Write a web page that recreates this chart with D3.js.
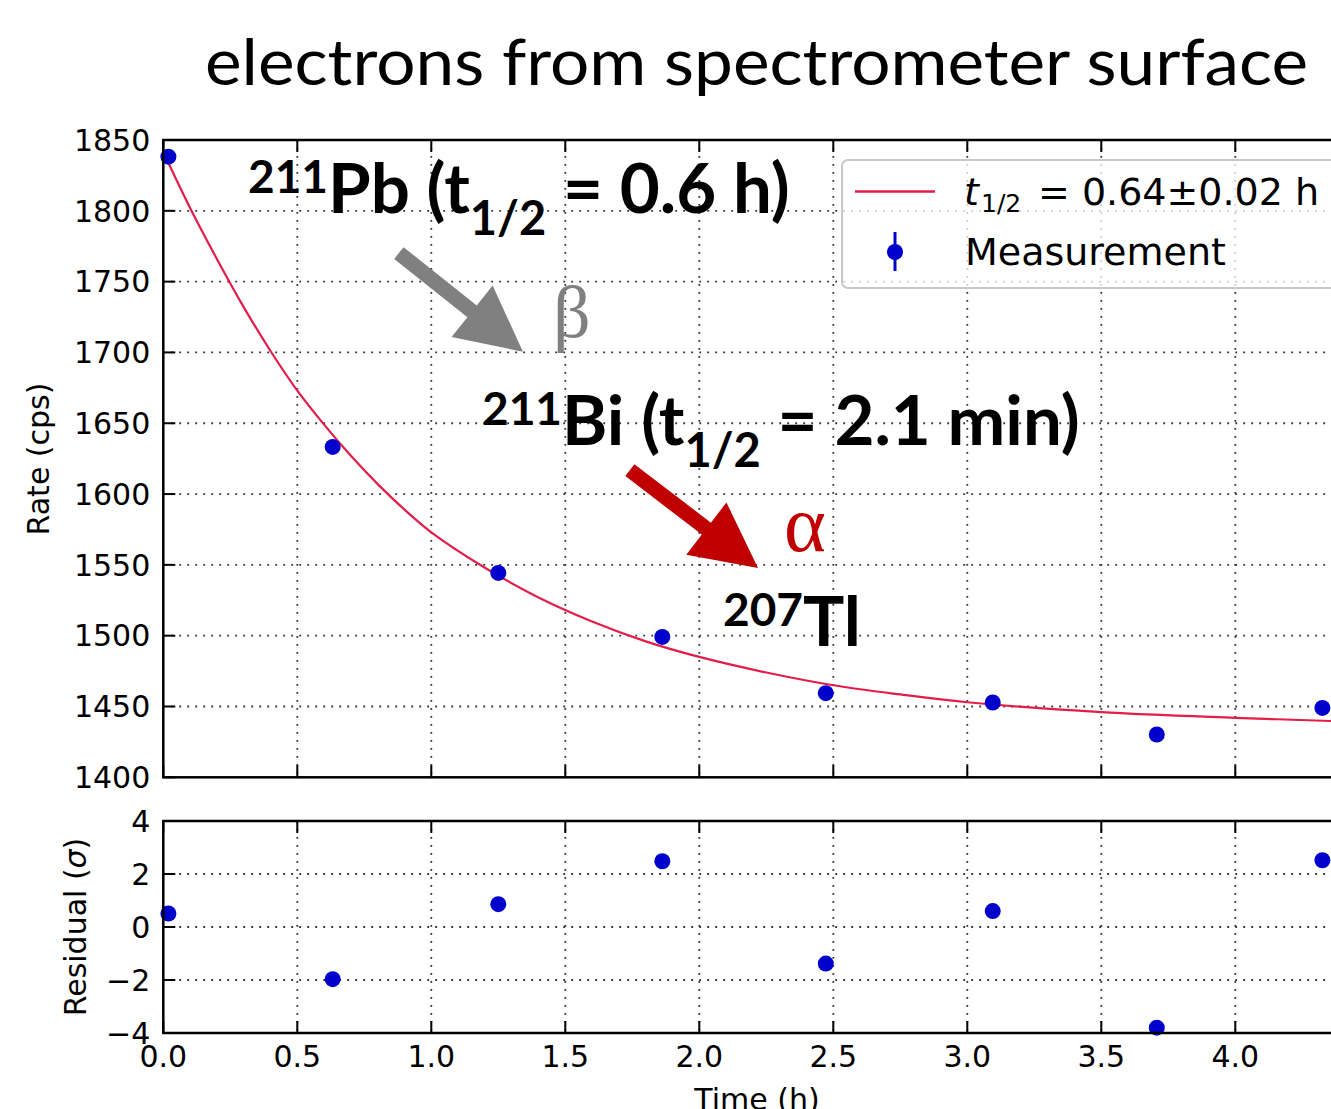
<!DOCTYPE html>
<html>
<head>
    <meta charset="utf-8">
    <style>
        body { margin: 0; background: #fff; }
        svg { display: block; overflow: hidden; }
        .tick-label { font-family: 'DejaVu Sans', sans-serif; font-size: 30px; fill: #000; }
    </style>
</head>
<body>
    <svg width="1331" height="1109"></svg>

<script src="https://d3js.org/d3.v7.min.js"></script>
<script>
    const times = [0.019, 0.632, 1.25, 1.862, 2.472, 3.095, 3.707, 4.325];
    const rates = [1838.2, 1633.3, 1544.3, 1499.1, 1459.4, 1452.8, 1430.2, 1449.0];
    const residuals = [0.51, -1.97, 0.86, 2.48, -1.38, 0.60, -3.80, 2.52];

    // fitted curve (t1/2 = 0.64 h)
    const fitTimes = [0, 0.1, 0.2, 0.3, 0.4, 0.5, 0.6, 0.7, 0.8, 0.9, 1.0, 1.2, 1.4, 1.6, 1.8,
                      2.0, 2.25, 2.5, 2.75, 3.0, 3.5, 4.0, 4.4];
    const fitRates = [1841.5, 1802, 1766, 1732, 1701, 1673, 1649, 1627, 1607, 1589, 1573, 1548, 1527, 1510, 1496,
                      1485, 1474, 1465, 1458.5, 1453, 1446, 1442, 1439.5];

    const xTicks = [0.0, 0.5, 1.0, 1.5, 2.0, 2.5, 3.0, 3.5, 4.0];
    const rateTicks = [1400, 1450, 1500, 1550, 1600, 1650, 1700, 1750, 1800, 1850];
    const residTicks = [-4, -2, 0, 2, 4];

    let svg = d3.select("svg");

    let left = 163.3;
    let x = d3.scaleLinear().domain([0, 4.4]).range([left, left + 4.4 * 268]);
    let yMain = d3.scaleLinear().domain([1400, 1850]).range([777.3, 140]);
    let yRes = d3.scaleLinear().domain([-4, 4]).range([1033, 821]);

    let blue = "#0000cc";
    let red = "#e31d4a";

    // title
    svg.append("text")
        .attr("x", 205).attr("y", 85)
        .attr("textLength", 1103).attr("lengthAdjust", "spacingAndGlyphs")
        .style("font-family", "Lato, 'Open Sans', sans-serif")
        .style("font-size", "64px")
        .text("electrons from spectrometer surface");

    function panel(y, ticks, fmt) {
        let g = svg.append("g");
        let x0 = x.range()[0], x1 = x.range()[1];
        let y0 = y.range()[0], y1 = y.range()[1];

        // dotted grid
        g.selectAll(".gx").data(xTicks.slice(1)).join("line")
            .attr("x1", d => x(d)).attr("x2", d => x(d))
            .attr("y1", y1).attr("y2", y0)
            .style("stroke", "#333").style("stroke-width", 1.8)
            .style("stroke-dasharray", "1.8,6.2");
        g.selectAll(".gy").data(ticks.slice(1, -1)).join("line")
            .attr("x1", x0).attr("x2", x1)
            .attr("y1", d => y(d)).attr("y2", d => y(d))
            .style("stroke", "#333").style("stroke-width", 1.8)
            .style("stroke-dasharray", "1.8,6.2");

        // inward ticks on all sides
        let tl = 12;
        g.selectAll(".tb").data(xTicks).join("line")
            .attr("x1", d => x(d)).attr("x2", d => x(d))
            .attr("y1", y0).attr("y2", y0 - tl)
            .style("stroke", "#000").style("stroke-width", 2);
        g.selectAll(".tt").data(xTicks).join("line")
            .attr("x1", d => x(d)).attr("x2", d => x(d))
            .attr("y1", y1).attr("y2", y1 + tl)
            .style("stroke", "#000").style("stroke-width", 2);
        g.selectAll(".tl").data(ticks).join("line")
            .attr("x1", x0).attr("x2", x0 + tl)
            .attr("y1", d => y(d)).attr("y2", d => y(d))
            .style("stroke", "#000").style("stroke-width", 2);

        g.selectAll(".yl").data(ticks).join("text")
            .attr("class", "tick-label")
            .attr("x", x0 - 13).attr("y", d => y(d))
            .attr("dy", "0.36em")
            .attr("text-anchor", "end")
            .text(fmt);

        return g;
    }

    function frame(y) {
        let x0 = x.range()[0], x1 = x.range()[1];
        svg.append("rect")
            .attr("x", x0).attr("y", y.range()[1])
            .attr("width", x1 - x0).attr("height", y.range()[0] - y.range()[1])
            .style("fill", "none").style("stroke", "#000").style("stroke-width", 2.5);
    }

    // main panel
    panel(yMain, rateTicks, d => d);

    let line = d3.line()
        .x(d => x(d[0]))
        .y(d => yMain(d[1]))
        .curve(d3.curveCatmullRom);

    svg.append("path")
        .datum(fitTimes.map((t, i) => [t, fitRates[i]]))
        .attr("d", line)
        .style("fill", "none").style("stroke", red).style("stroke-width", 2.2);

    svg.append("g").selectAll("circle")
        .data(times.map((t, i) => [t, rates[i]]))
        .join("circle")
        .attr("cx", d => x(d[0])).attr("cy", d => yMain(d[1]))
        .attr("r", 8)
        .style("fill", blue);

    frame(yMain);

    // residual panel
    panel(yRes, residTicks, d => d < 0 ? "\u2212" + Math.abs(d) : d);

    svg.append("g").selectAll("circle")
        .data(times.map((t, i) => [t, residuals[i]]))
        .join("circle")
        .attr("cx", d => x(d[0])).attr("cy", d => yRes(d[1]))
        .attr("r", 8)
        .style("fill", blue);

    frame(yRes);

    // x tick labels under residual panel
    svg.append("g").selectAll("text")
        .data(xTicks).join("text")
        .attr("class", "tick-label")
        .attr("x", d => x(d)).attr("y", 1067)
        .attr("text-anchor", "middle")
        .text(d => d.toFixed(1));

    // axis labels
    svg.append("text")
        .attr("class", "tick-label")
        .attr("transform", "translate(49,459) rotate(-90)")
        .attr("text-anchor", "middle")
        .text("Rate (cps)");

    let resLab = svg.append("text")
        .attr("class", "tick-label")
        .attr("transform", "translate(86,927) rotate(-90)")
        .attr("text-anchor", "middle");
    resLab.append("tspan").text("Residual (");
    resLab.append("tspan").style("font-style", "italic").text("\u03c3");
    resLab.append("tspan").text(")");

    // cut by the bottom edge, as in the original
    svg.append("text")
        .attr("class", "tick-label")
        .attr("x", 757).attr("y", 1110)
        .attr("text-anchor", "middle")
        .text("Time (h)");

    // legend
    let leg = svg.append("g");
    leg.append("rect")
        .attr("x", 842).attr("y", 160).attr("width", 560).attr("height", 128).attr("rx", 6)
        .style("fill", "#fff").style("fill-opacity", 0.75)
        .style("stroke", "#c8c8c8").style("stroke-width", 2);
    leg.append("line")
        .attr("x1", 855).attr("x2", 935).attr("y1", 191.5).attr("y2", 191.5)
        .style("stroke", red).style("stroke-width", 2.5);
    let lt = leg.append("text")
        .style("font-family", "'DejaVu Sans', sans-serif").style("font-size", "38px")
        .attr("x", 964).attr("y", 205);
    lt.append("tspan").style("font-style", "italic").text("t");
    lt.append("tspan").attr("x", 981).attr("dy", 7).style("font-size", "25px").text("1/2");
    lt.append("tspan").attr("x", 1038).attr("dy", -7).text("= 0.64\u00b10.02 h");
    leg.append("line")
        .attr("x1", 895).attr("x2", 895).attr("y1", 232).attr("y2", 271)
        .style("stroke", blue).style("stroke-width", 3);
    leg.append("circle").attr("cx", 895).attr("cy", 252).attr("r", 8).style("fill", blue);
    leg.append("text")
        .style("font-family", "'DejaVu Sans', sans-serif").style("font-size", "38px")
        .attr("x", 965).attr("y", 265)
        .text("Measurement");

    // decay chain annotations
    function nuclide(px, py, mass, parts) {
        let t = svg.append("text")
            .attr("x", px).attr("y", py)
            .style("font-family", "Lato, 'Open Sans', sans-serif")
            .style("font-weight", "bold");
        t.append("tspan").attr("dy", -20).style("font-size", "46px").text(mass);
        t.append("tspan").attr("dy", 20).style("font-size", "69px").text(parts[0]);
        if (parts.length > 1) {
            t.append("tspan").attr("dy", 22).style("font-size", "47px").text("1/2");
            t.append("tspan").attr("dy", -22).style("font-size", "69px").text(parts[1]);
        }
        return t;
    }
    nuclide(248, 213, "211", ["Pb (t", " = 0.6 h)"]);
    nuclide(482, 445, "211", ["Bi (t", " = 2.1 min)"]);
    nuclide(723, 646, "207", ["Tl"]);

    // arrows given in data units (time, rate)
    function arrow(from, to, color) {
        let x0 = x(from[0]), y0 = yMain(from[1]);
        let x1 = x(to[0]), y1 = yMain(to[1]);
        let ang = Math.atan2(y1 - y0, x1 - x0);
        let len = Math.hypot(x1 - x0, y1 - y0);
        let head = 65, hw = 33, sw = 7.5;
        let pts = [[0, -sw], [len - head, -sw], [len - head, -hw], [len, 0],
                   [len - head, hw], [len - head, sw], [0, sw]];
        svg.append("polygon")
            .attr("points", pts.map(p => p.join(",")).join(" "))
            .attr("transform", `translate(${x0},${y0}) rotate(${ang * 180 / Math.PI})`)
            .style("fill", color);
    }
    arrow([0.879, 1770.2], [1.342, 1700.5], "#808080");
    arrow([1.741, 1616.9], [2.219, 1547.7], "#c00000");

    svg.append("text")
        .attr("x", 553).attr("y", 337)
        .style("font-family", "'Liberation Serif', serif").style("font-size", "74px")
        .style("fill", "#808080")
        .text("\u03b2");
    svg.append("text")
        .attr("x", 784).attr("y", 551)
        .style("font-family", "'Liberation Serif', serif").style("font-size", "80px")
        .style("fill", "#c00000")
        .text("\u03b1");
</script>
</body>
</html>
